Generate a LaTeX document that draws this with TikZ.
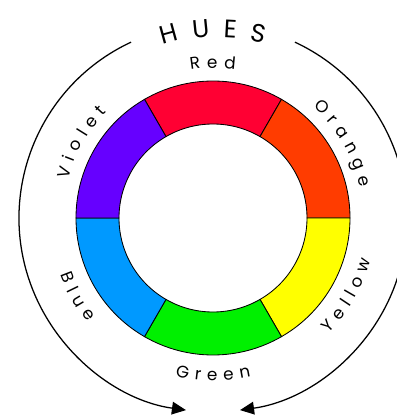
\documentclass[tikz,border=0pt]{standalone}
\usepackage{fontspec}
\newfontfamily\huefont{Poppins}
\usetikzlibrary{arrows.meta,decorations.text}
\definecolor{hueRed}{RGB}{255,0,51}
\definecolor{hueOrange}{RGB}{255,60,0}
\definecolor{hueYellow}{RGB}{255,255,0}
\definecolor{hueGreen}{RGB}{0,240,0}
\definecolor{hueBlue}{RGB}{0,153,255}
\definecolor{hueViolet}{RGB}{102,0,255}

\begin{document}
\begin{tikzpicture}[x=0.025cm, y=0.025cm,
    huelabel/.style={decorate, decoration={text along path, text align=center,
        text={|\huefont\fontsize{12}{14}\selectfont\kern4.5pt|#1}}}]
  \useasboundingbox (-213,-197) rectangle (183,218);
  % the ring, one sector per hue
  \foreach \a/\c in {60/hueRed,0/hueOrange,-60/hueYellow,-120/hueGreen,180/hueBlue,120/hueViolet}{
     \filldraw[fill=\c, draw=black, line width=0.6pt] (\a:94) arc[start angle=\a, end angle=\a+60, radius=94]
        -- (\a+60:137) arc[start angle=\a+60, end angle=\a, radius=137] -- cycle; }
  % names on the upper half run clockwise, on the lower half anticlockwise
  % (angles nudged by half a letter gap)
  \foreach \a/\t in {91.2/Red,31.2/Orange,151.2/Violet}{
     \path[huelabel=\t] (\a+30:150) arc[start angle=\a+30, end angle=\a-30, radius=150]; }
  \foreach \a/\t in {268.9/Green,328.9/Yellow,208.9/Blue}{
     \path[huelabel=\t] (\a-30:163) arc[start angle=\a-30, end angle=\a+30, radius=163]; }
  \path[decorate, decoration={text along path, text align=center,
        text={|\huefont\fontsize{18}{21}\selectfont\kern9.5pt|HUES}}]
     (137:181) arc[start angle=137, end angle=47, radius=181];
  \draw[line width=0.9pt, -{Triangle[length=10pt,width=9pt]}] (115:194) arc[start angle=115, end angle=262, radius=194];
  \draw[line width=0.9pt, -{Triangle[length=10pt,width=9pt]}] (65:194) arc[start angle=65, end angle=-82, radius=194];
\end{tikzpicture}
\end{document}
